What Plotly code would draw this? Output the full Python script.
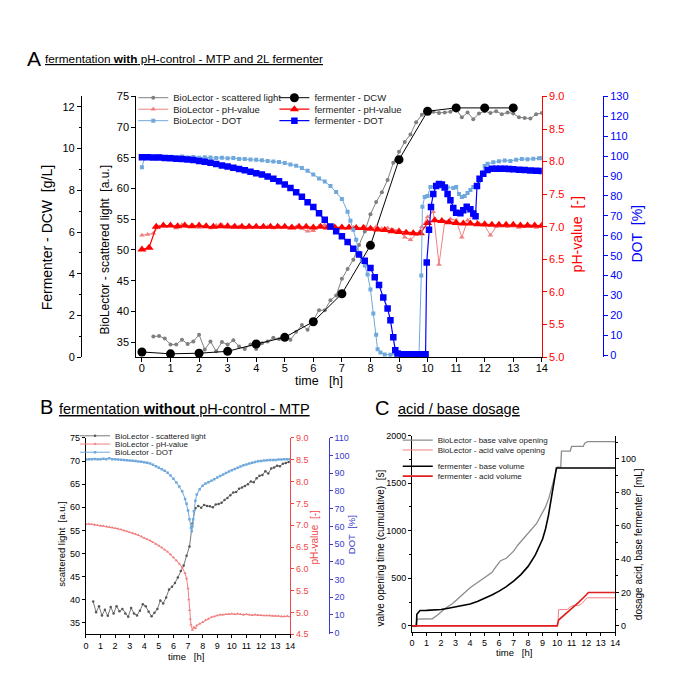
import plotly.graph_objects as go

# ---------------- Panel A data ----------------
a_ferm_t = [0, 1, 2, 3, 4, 5, 6, 7, 8, 9, 10, 11, 12, 13]
a_ferm_dcw = [0.25, 0.16, 0.19, 0.28, 0.63, 0.95, 1.70, 3.04, 5.36, 9.47, 11.79, 11.95, 11.95, 11.95]

a_bl_sl_t = [0.4, 0.6, 0.8, 1.0, 1.2, 1.4, 1.6, 1.8, 2.0, 2.2, 2.4, 2.6, 2.8, 3.0, 3.2, 3.4, 3.6, 3.8,
             4.0, 4.2, 4.4, 4.6, 4.8, 5.0, 5.2, 5.4, 5.6, 5.8, 6.0, 6.2, 6.4, 6.6, 6.8, 7.0, 7.2, 7.4,
             7.6, 7.8, 8.0, 8.2, 8.4, 8.6, 8.8, 9.0, 9.2, 9.4, 9.6, 9.8, 10.0, 10.2, 10.4, 10.6, 10.8,
             11.0, 11.2, 11.4, 11.6, 11.8, 12.0, 12.2, 12.4, 12.6, 12.8, 13.0, 13.2, 13.4, 13.6, 13.8, 14.0]
a_bl_sl = [35.9, 36.0, 35.6, 34.6, 34.6, 35.4, 34.7, 35.1, 36.2, 33.8, 35.1, 33.5, 35.0, 34.6, 35.3, 34.3,
           33.9, 34.6, 33.9, 34.8, 35.1, 35.7, 35.5, 35.9, 35.4, 36.7, 37.8, 37.0, 38.5, 40.2, 40.2, 41.8,
           42.6, 45.3, 46.9, 48.4, 50.8, 53.0, 55.8, 57.8, 59.4, 61.4, 64.2, 66.0, 67.6, 68.8, 70.8, 72.0,
           72.9, 72.5, 72.3, 72.4, 72.5, 72.9, 71.6, 72.4, 71.3, 72.2, 72.6, 72.3, 72.6, 72.1, 72.4, 72.2,
           71.6, 71.5, 71.4, 72.1, 72.3]

a_ferm_ph_t = [0.0, 0.25, 0.5, 0.75, 1.0, 1.25, 1.5, 1.75, 2.0, 2.25, 2.5, 2.75, 3.0, 3.25, 3.5, 3.75,
               4.0, 4.25, 4.5, 4.75, 5.0, 5.25, 5.5, 5.75, 6.0, 6.25, 6.5, 6.75, 7.0, 7.25, 7.5, 7.75,
               8.0, 8.25, 8.5, 8.75, 9.0, 9.25, 9.5, 9.75, 10.0, 10.25, 10.5, 10.75, 11.0, 11.25, 11.5,
               11.75, 12.0, 12.25, 12.5, 12.75, 13.0, 13.25, 13.5, 13.75, 14.0]
a_ferm_ph = [6.65, 6.68, 7.00, 7.02, 7.02, 7.01, 7.02, 7.01, 7.02, 7.01, 7.00, 7.01, 7.01, 7.00, 7.00, 7.00,
             7.00, 7.00, 7.00, 7.00, 7.00, 6.99, 7.00, 7.00, 6.99, 7.00, 6.99, 6.99, 6.99, 6.99, 6.98, 6.98,
             6.97, 6.96, 6.95, 6.93, 6.92, 6.91, 6.90, 6.90, 7.06, 7.10, 7.09, 7.07, 7.06, 7.05, 7.05,
             7.04, 7.04, 7.03, 7.03, 7.03, 7.03, 7.02, 7.02, 7.02, 7.02]

a_bl_ph_t = [0.0, 0.2, 0.4, 0.6, 0.8, 1.0, 1.2, 1.4, 1.6, 1.8, 2.0, 2.2, 2.4, 2.6, 2.8, 3.0, 3.2, 3.4, 3.6,
             3.8, 4.0, 4.2, 4.4, 4.6, 4.8, 5.0, 5.2, 5.4, 5.6, 5.8, 6.0, 6.2, 6.4, 6.6, 6.8, 7.0, 7.2, 7.4,
             7.6, 7.8, 8.0, 8.2, 8.4, 8.6, 8.8, 9.0, 9.2, 9.4, 9.6, 9.8, 10.0, 10.2, 10.4, 10.6, 10.8, 11.0,
             11.2, 11.4, 11.6, 11.8, 12.0, 12.2, 12.4, 12.6, 12.8, 13.0, 13.2, 13.4, 13.6, 13.8, 14.0]
a_bl_ph = [6.87, 6.88, 6.90, 7.00, 7.01, 7.02, 6.98, 7.03, 7.00, 7.02, 6.99, 7.01, 6.98, 7.02, 7.03, 6.99,
           7.01, 7.00, 6.98, 7.00, 7.01, 6.99, 7.00, 6.98, 7.01, 7.00, 6.99, 7.00, 6.97, 6.93, 6.94, 7.01,
           7.03, 7.00, 6.99, 7.00, 6.98, 6.99, 6.97, 7.00, 6.98, 7.00, 6.97, 6.98, 6.95, 6.96, 6.84, 6.80,
           6.88, 7.00, 7.15, 7.23, 6.42, 7.08, 7.12, 7.10, 6.84, 7.10, 7.17, 7.05, 7.02, 6.87, 7.00, 7.01,
           7.00, 7.01, 6.99, 7.00, 7.01, 6.99, 7.00]

a_ferm_dot_t = [0.0, 0.2, 0.4, 0.6, 0.8, 1.0, 1.2, 1.4, 1.6, 1.8, 2.0, 2.2, 2.4, 2.6, 2.8, 3.0, 3.2, 3.4,
                3.6, 3.8, 4.0, 4.2, 4.4, 4.6, 4.8, 5.0, 5.2, 5.4, 5.6, 5.8, 6.0, 6.2, 6.4, 6.6, 6.8, 7.0,
                7.2, 7.4, 7.6, 7.8, 8.0, 8.15, 8.3, 8.45, 8.6, 8.7, 8.8, 8.87, 8.95, 9.1, 9.25, 9.4, 9.55,
                9.7, 9.85, 9.93, 9.97, 10.05, 10.12, 10.2, 10.3, 10.4, 10.5, 10.6, 10.7, 10.8, 10.9, 11.0,
                11.15, 11.25, 11.37, 11.5, 11.6, 11.68, 11.73, 11.82, 11.95, 12.1, 12.25, 12.4, 12.55,
                12.7, 12.85, 13.0, 13.2, 13.4, 13.6, 13.8, 14.0]
a_ferm_dot = [99.5, 99.4, 99.3, 99.3, 99.0, 98.9, 98.7, 98.5, 98.3, 98.0, 97.6, 97.2, 96.7, 96.0, 95.3,
              94.8, 94.2, 93.5, 92.9, 92.2, 91.4, 90.8, 89.8, 88.7, 87.4, 85.8, 84.0, 81.8, 79.6, 76.8,
              74.5, 71.3, 68.0, 64.6, 62.3, 59.8, 56.8, 53.5, 50.6, 47.4, 43.8, 39.2, 35.3, 29.0, 23.5,
              17.5, 9.0, 2.5, 0.8, 0.5, 0.5, 0.5, 0.5, 0.5, 0.5, 0.5, 46.5, 63.0, 74.5, 81.0, 85.0, 86.0,
              85.8, 84.2, 81.0, 77.8, 74.0, 71.5, 71.3, 72.8, 74.6, 73.3, 71.2, 69.8, 85.0, 88.7, 91.2,
              93.0, 93.7, 93.7, 93.6, 93.6, 93.5, 93.4, 93.2, 93.0, 92.8, 92.6, 92.5]

a_bl_dot_t = [0.0, 0.1, 0.2, 0.4, 0.6, 0.8, 1.0, 1.2, 1.4, 1.6, 1.8, 2.0, 2.2, 2.4, 2.6, 2.8, 3.0, 3.2,
              3.4, 3.6, 3.8, 4.0, 4.2, 4.4, 4.6, 4.8, 5.0, 5.2, 5.4, 5.6, 5.8, 6.0, 6.2, 6.4, 6.6, 6.8,
              7.0, 7.2, 7.3, 7.4, 7.5, 7.6, 7.7, 7.8, 7.9, 8.0, 8.1, 8.2, 8.25, 8.35, 8.5, 8.7, 8.9, 9.1,
              9.3, 9.5, 9.7, 9.78, 9.82, 9.9, 10.0, 10.1, 10.3, 10.5, 10.7, 10.9, 11.0, 11.1, 11.2, 11.3,
              11.4, 11.5, 11.6, 11.7, 11.8, 11.9, 12.0, 12.1, 12.3, 12.5, 12.7, 12.9, 13.1, 13.3, 13.5,
              13.7, 13.9, 14.0]
a_bl_dot = [94.4, 99.7, 99.8, 99.6, 99.9, 99.5, 99.7, 99.4, 99.8, 99.3, 99.6, 99.2, 99.5, 99.3, 99.0,
            99.2, 98.9, 99.1, 98.6, 98.5, 98.3, 98.2, 97.9, 97.6, 97.3, 97.0, 96.5, 95.8, 95.2, 94.0,
            92.6, 90.8, 88.8, 87.2, 85.0, 82.0, 78.5, 72.1, 67.5, 63.0, 58.0, 51.5, 48.0, 45.0, 40.5,
            33.0, 21.0, 10.3, 3.0, 1.3, 0.4, 0.2, 0.3, 0.2, 0.3, 0.2, 0.3, 40.0, 74.6, 79.5, 80.0, 84.5,
            85.4, 84.8, 84.2, 84.0, 84.5, 81.0, 79.5, 80.0, 81.5, 83.0, 84.5, 85.5, 87.5, 91.5, 95.0,
            96.2, 96.9, 97.4, 97.8, 97.6, 98.2, 98.6, 98.4, 98.7, 98.9, 99.0]

# ---------------- Panel B data ----------------
b_sl_t = [0.5, 0.7, 0.9, 1.1, 1.3, 1.5, 1.7, 1.9, 2.1, 2.3, 2.5, 2.7, 2.9, 3.1, 3.3, 3.5, 3.7, 3.9, 4.1,
          4.3, 4.5, 4.7, 4.9, 5.1, 5.3, 5.5, 5.7, 5.9, 6.1, 6.3, 6.5, 6.7, 6.9, 7.1, 7.3, 7.5, 7.7, 7.9,
          8.1, 8.3, 8.5, 8.7, 8.9, 9.1, 9.3, 9.5, 9.7, 9.9, 10.1, 10.3, 10.5, 10.7, 10.9, 11.1, 11.3,
          11.5, 11.7, 11.9, 12.1, 12.3, 12.5, 12.7, 12.9, 13.1, 13.3, 13.5, 13.7, 13.9]
b_sl = [39.6, 37.3, 38.6, 36.6, 37.8, 36.5, 38.4, 37.0, 38.6, 37.5, 38.0, 37.0, 36.3, 38.2, 37.0, 36.6,
        37.6, 39.0, 38.6, 37.4, 36.4, 37.2, 38.0, 39.8, 39.2, 40.5, 42.2, 42.8, 43.6, 44.8, 46.2, 47.4,
        49.5, 51.5, 56.5, 59.8, 60.3, 59.9, 60.5, 60.3, 60.2, 60.0, 60.6, 60.7, 61.0, 61.6, 62.0, 62.6,
        63.2, 63.3, 64.0, 64.3, 64.6, 65.0, 65.6, 65.4, 66.3, 66.8, 67.0, 67.8, 67.3, 68.4, 68.6, 69.0,
        68.9, 69.4, 69.6, 69.8]

b_t = [0.0, 0.2, 0.4, 0.6, 0.8, 1.0, 1.2, 1.4, 1.6, 1.8, 2.0, 2.2, 2.4, 2.6, 2.8, 3.0, 3.2, 3.4, 3.6, 3.8,
       4.0, 4.2, 4.4, 4.6, 4.8, 5.0, 5.2, 5.4, 5.6, 5.8, 6.0, 6.2, 6.4, 6.6, 6.8, 6.9, 7.0, 7.05, 7.1,
       7.15, 7.2, 7.3, 7.4, 7.5, 7.6, 7.8, 8.0, 8.2, 8.4, 8.6, 8.8, 9.0, 9.2, 9.4, 9.6, 9.8, 10.0, 10.2,
       10.4, 10.6, 10.8, 11.0, 11.2, 11.4, 11.6, 11.8, 12.0, 12.2, 12.4, 12.6, 12.8, 13.0, 13.2, 13.4,
       13.6, 13.8, 14.0]
b_ph = [7.02, 7.03, 7.02, 7.01, 7.00, 6.99, 6.98, 6.97, 6.96, 6.95, 6.93, 6.92, 6.90, 6.88, 6.86, 6.84,
        6.82, 6.80, 6.77, 6.74, 6.71, 6.68, 6.65, 6.61, 6.57, 6.53, 6.49, 6.44, 6.39, 6.33, 6.26, 6.19,
        6.12, 6.03, 5.90, 5.78, 5.55, 5.30, 5.05, 4.85, 4.72, 4.60, 4.66, 4.64, 4.70, 4.74, 4.78, 4.83,
        4.86, 4.89, 4.91, 4.93, 4.95, 4.95, 4.96, 4.96, 4.97, 4.96, 4.97, 4.96, 4.95, 4.96, 4.95, 4.94,
        4.95, 4.94, 4.94, 4.93, 4.93, 4.93, 4.92, 4.92, 4.92, 4.91, 4.91, 4.92, 4.91]

b_dot_t = [0.0, 0.2, 0.4, 0.6, 0.8, 1.0, 1.2, 1.4, 1.6, 1.8, 2.0, 2.2, 2.4, 2.6, 2.8, 3.0, 3.2, 3.4, 3.6,
           3.8, 4.0, 4.2, 4.4, 4.6, 4.8, 5.0, 5.2, 5.4, 5.6, 5.8, 6.0, 6.2, 6.4, 6.6, 6.8, 6.9, 7.0, 7.1,
           7.2, 7.25, 7.3, 7.35, 7.4, 7.5, 7.6, 7.8, 8.0, 8.2, 8.4, 8.6, 8.8, 9.0, 9.2, 9.4, 9.6, 9.8,
           10.0, 10.2, 10.4, 10.6, 10.8, 11.0, 11.2, 11.4, 11.6, 11.8, 12.0, 12.2, 12.4, 12.6, 12.8,
           13.0, 13.2, 13.4, 13.6, 13.8, 14.0]
b_dot = [97.8, 98.0, 97.9, 98.1, 98.0, 98.0, 98.2, 98.0, 98.5, 98.0, 97.9, 97.8, 97.7, 97.6, 97.4, 97.3,
         97.1, 96.9, 96.7, 96.5, 96.3, 96.0, 95.5, 94.8, 94.0, 93.2, 92.3, 91.4, 90.3, 88.8, 86.9, 84.8,
         82.5, 79.8, 75.5, 72.8, 69.0, 64.0, 59.0, 57.2, 60.0, 64.0, 68.5, 74.5, 78.0, 81.0, 83.0, 84.2,
         85.0, 85.8, 86.7, 87.6, 88.5, 89.4, 90.2, 91.0, 91.8, 92.5, 93.2, 93.9, 94.5, 95.0, 95.5, 96.0,
         96.4, 96.8, 97.0, 97.2, 97.4, 97.5, 97.6, 97.6, 97.8, 97.8, 97.9, 97.9, 98.0]

# ---------------- Panel C data ----------------
c_base_valve_t = [0, 0.25, 0.35, 1.4, 1.8, 2.3, 2.8, 3.2, 3.6, 4.0, 4.5, 5.0, 5.5, 5.8, 6.1, 6.5, 7.0,
                  7.3, 7.7, 8.2, 8.6, 8.9, 9.2, 9.45, 9.65, 9.9, 10.0, 10.25, 10.3, 10.9, 11.0, 11.8,
                  11.9, 12.1, 14.0]
c_base_valve = [0, 0, 70, 75, 120, 185, 235, 285, 345, 400, 455, 505, 560, 625, 685, 710, 785, 850,
                920, 1010, 1080, 1165, 1250, 1350, 1455, 1600, 1667, 1667, 1835, 1835, 1885, 1885,
                1920, 1935, 1935]
c_acid_valve_t = [0, 10.05, 10.1, 10.7, 10.9, 11.1, 11.5, 11.75, 11.95, 12.1, 14.0]
c_acid_valve = [0, 0, 170, 172, 200, 213, 215, 240, 280, 295, 295]
c_base_vol_t = [0, 0.3, 0.33, 0.55, 1.0, 1.5, 2.0, 2.5, 3.0, 3.5, 4.0, 4.5, 5.0, 5.5, 6.0, 6.5, 7.0,
                7.5, 8.0, 8.5, 9.0, 9.2, 9.4, 9.6, 9.8, 9.95, 14.0]
c_base_vol = [0, 0, 7.0, 9.2, 9.3, 9.5, 9.8, 10.6, 11.3, 12.1, 13.1, 14.6, 16.4, 18.5, 20.8, 23.5, 26.8,
              30.7, 35.6, 42.5, 52.0, 58.0, 66.0, 76.0, 87.0, 94.5, 94.5]
c_acid_vol_t = [0, 10.0, 10.1, 10.5, 11.0, 11.5, 12.0, 12.15, 14.0]
c_acid_vol = [0, 0, 3.5, 6.5, 10.5, 14.2, 18.5, 20.0, 20.0]

# ---------------- helpers (layout only) ----------------
W, H = 685, 700
FONT = "Liberation Sans, Arial, sans-serif"
GRAY = "#7f7f7f"
PINK = "#f08080"
LBLUE = "#6fa8dc"
RED = "#ff0000"
BLUE = "#0000ff"
BRED = "#f04848"
BBLUE = "#3c3ccc"


def px(x):
    return x / W


def py(y):
    return 1 - y / H


fig = go.Figure()

# Panel A traces
fig.add_trace(go.Scatter(x=a_bl_sl_t, y=a_bl_sl, mode="lines+markers", name="BioLector - scattered light",
                         line=dict(color=GRAY, width=1), marker=dict(symbol="circle", size=4, color=GRAY),
                         xaxis="x", yaxis="y", legend="legend"))
fig.add_trace(go.Scatter(x=a_ferm_t, y=a_ferm_dcw, mode="lines+markers", name="fermenter - DCW",
                         line=dict(color="black", width=1), marker=dict(symbol="circle", size=9, color="black"),
                         xaxis="x", yaxis="y2", legend="legend4"))
fig.add_trace(go.Scatter(x=a_bl_ph_t, y=a_bl_ph, mode="lines+markers", name="BioLector - pH-value",
                         line=dict(color=PINK, width=1), marker=dict(symbol="triangle-up", size=5, color=PINK),
                         xaxis="x", yaxis="y3", legend="legend2"))
fig.add_trace(go.Scatter(x=a_ferm_ph_t, y=a_ferm_ph, mode="lines+markers", name="fermenter - pH-value",
                         line=dict(color=RED, width=1.2), marker=dict(symbol="triangle-up", size=8, color=RED),
                         xaxis="x", yaxis="y3", legend="legend5"))
fig.add_trace(go.Scatter(x=a_bl_dot_t, y=a_bl_dot, mode="lines+markers", name="BioLector - DOT",
                         line=dict(color=LBLUE, width=1), marker=dict(symbol="square", size=4, color=LBLUE),
                         xaxis="x", yaxis="y4", legend="legend3"))
fig.add_trace(go.Scatter(x=a_ferm_dot_t, y=a_ferm_dot, mode="lines+markers", name="fermenter - DOT",
                         line=dict(color=BLUE, width=1.2), marker=dict(symbol="square", size=6.5, color=BLUE),
                         xaxis="x", yaxis="y4", legend="legend6"))

# Panel B traces
fig.add_trace(go.Scatter(x=b_sl_t, y=b_sl, mode="lines+markers", name="BioLector - scattered light",
                         line=dict(color="#555555", width=0.8), marker=dict(symbol="circle", size=2.5, color="#555555"),
                         xaxis="x2", yaxis="y5", legend="legend7"))
fig.add_trace(go.Scatter(x=b_t, y=b_ph, mode="lines+markers", name="BioLector - pH-value",
                         line=dict(color=PINK, width=1), marker=dict(symbol="triangle-up", size=3, color=PINK),
                         xaxis="x2", yaxis="y6", legend="legend8"))
fig.add_trace(go.Scatter(x=b_dot_t, y=b_dot, mode="lines+markers", name="BioLector - DOT",
                         line=dict(color=LBLUE, width=1), marker=dict(symbol="square", size=2.5, color=LBLUE),
                         xaxis="x2", yaxis="y7", legend="legend9"))

# Panel C traces
fig.add_trace(go.Scatter(x=c_base_valve_t, y=c_base_valve, mode="lines", name="BioLector - base valve opening",
                         line=dict(color="#8c8c8c", width=1.3), xaxis="x3", yaxis="y8", legend="legend10"))
fig.add_trace(go.Scatter(x=c_acid_valve_t, y=c_acid_valve, mode="lines", name="BioLector - acid valve opening",
                         line=dict(color=PINK, width=1), xaxis="x3", yaxis="y8", legend="legend11"))
fig.add_trace(go.Scatter(x=c_base_vol_t, y=c_base_vol, mode="lines", name="fermenter - base volume",
                         line=dict(color="black", width=1.6), xaxis="x3", yaxis="y9", legend="legend12"))
fig.add_trace(go.Scatter(x=c_acid_vol_t, y=c_acid_vol, mode="lines", name="fermenter - acid volume",
                         line=dict(color="#e02020", width=1.6), xaxis="x3", yaxis="y9", legend="legend13"))


def ax(color="black", size=11, **kw):
    d = dict(showgrid=False, zeroline=False, showline=True, linewidth=1, linecolor=color,
             ticks="outside", ticklen=4, tickwidth=1, tickcolor=color,
             tickfont=dict(size=size, color=color, family=FONT))
    d.update(kw)
    return d


def leg(xtext, yrow, size):
    return dict(x=px(xtext - 40), y=py(yrow), xanchor="left", yanchor="middle",
                bgcolor="rgba(0,0,0,0)", borderwidth=0, itemwidth=30,
                font=dict(size=size, family=FONT, color="#222222"))


A_TOP, A_BOT = 92, 357.3
B_TOP, B_BOT = 439.5, 639.3
C_TOP, C_BOT = 437, 636.5

layout = dict(
    width=W, height=H, margin=dict(l=0, r=0, t=0, b=0),
    paper_bgcolor="white", plot_bgcolor="rgba(0,0,0,0)",
    font=dict(family=FONT, color="black"),
    # panel A
    xaxis=ax(domain=[px(135), px(546)], range=[-0.2, 14], anchor="y", dtick=1, tick0=0,
             ticklabelstandoff=-3),
    yaxis=ax(domain=[py(A_BOT), py(A_TOP)], range=[32.55, 75], anchor="x", dtick=5, tick0=35),
    yaxis2=ax(overlaying="y", anchor="free", position=px(79), side="left", range=[0, 12.5], dtick=2,
              tick0=0, minor=dict(dtick=1, ticks="outside", ticklen=2, tickcolor="black")),
    yaxis3=ax(color=RED, overlaying="y", anchor="x", side="right", range=[5, 9], dtick=0.5, tick0=5,
              tickformat=".1f"),
    yaxis4=ax(color=BLUE, overlaying="y", anchor="free", position=px(608), side="right", range=[-1, 130],
              dtick=10, tick0=0),
    # panel B
    xaxis2=ax(size=9, domain=[px(84), px(291)], range=[0, 14], anchor="y5", dtick=1, tick0=0, ticklen=3),
    yaxis5=ax(size=9, domain=[py(B_BOT), py(B_TOP)], range=[32.5, 75], anchor="x2", dtick=5, tick0=35, ticklen=3),
    yaxis6=ax(color=BRED, size=9, overlaying="y5", anchor="x2", side="right", range=[4.5, 9.0], dtick=0.5,
              tick0=4.5, tickformat=".1f", ticklen=3),
    yaxis7=ax(color=BBLUE, size=9, overlaying="y5", anchor="free", position=px(330), side="right",
              range=[-1.1, 110], dtick=10, tick0=0, ticklen=3),
    # panel C
    xaxis3=ax(size=9, domain=[px(414.5), px(620.3)], range=[0, 14], anchor="y8", dtick=1, tick0=0, ticklen=3),
    yaxis8=ax(size=9, domain=[py(C_BOT), py(C_TOP)], range=[-60, 2000], anchor="x3", dtick=500, tick0=0,
              ticklen=3, minor=dict(dtick=250, ticks="outside", ticklen=2, tickcolor="black")),
    yaxis9=ax(size=9, overlaying="y8", anchor="x3", side="right", range=[-3.4, 113.9], dtick=20, tick0=0,
              ticklen=3, minor=dict(dtick=10, ticks="outside", ticklen=2, tickcolor="black")),
    # legends
    legend=leg(172, 93.3, 9.5), legend2=leg(172, 105, 9.5), legend3=leg(172, 116.7, 9.5),
    legend4=leg(315, 93.3, 9.5), legend5=leg(315, 105, 9.5), legend6=leg(315, 116.7, 9.5),
    legend7=leg(113, 437.3, 8), legend8=leg(113, 445.7, 8), legend9=leg(113, 454, 8),
    legend10=leg(440, 441.7, 8), legend11=leg(440, 451.7, 8),
    legend12=leg(440, 468.3, 8), legend13=leg(440, 478.3, 8),
    showlegend=True,
)
fig.update_layout(**layout)

NB = "\u00a0"


def ann(x, y, text, size, color="black", angle=0, xanchor="center", family=FONT):
    return dict(x=px(x), y=py(y), xref="paper", yref="paper", text=text, showarrow=False,
                textangle=angle, xanchor=xanchor, yanchor="middle",
                font=dict(size=size, color=color, family=family))


annotations = [
    # titles
    ann(22, 53, "A", 21, xanchor="left"),
    ann(41, 54, "<u>fermentation <b>with</b> pH-control - MTP and 2L fermenter</u>", 11.8, xanchor="left"),
    ann(35, 408, "B", 20, xanchor="left"),
    ann(55, 410, "<u>fermentation <b>without</b> pH-control - MTP</u>", 14.5, xanchor="left"),
    ann(375, 409, "C", 20, xanchor="left"),
    ann(398, 410, "<u>acid / base dosage</u>", 14.5, xanchor="left"),
    # panel A axis titles
    ann(45, 236, "Fermenter - DCW" + NB * 2 + "[g/L]", 14, angle=-90),
    ann(103, 248, "BioLector - scattered light" + NB * 2 + "[a.u.]", 12, angle=-90),
    ann(582, 232, "pH-value" + NB * 2 + "[-]", 14, color=RED, angle=-90),
    ann(642, 232, "DOT" + NB * 2 + "[%]", 14, color=BLUE, angle=-90),
    ann(320, 382, "time" + NB * 3 + "[h]", 12.5),
    # panel B axis titles
    ann(59, 547, "scattered light" + NB * 2 + "[a.u.]", 9.5, angle=-90),
    ann(316, 540, "pH-value" + NB * 2 + "[-]", 10, color=BRED, angle=-90),
    ann(353, 538, "DOT" + NB * 2 + "[%]", 9.5, color=BBLUE, angle=-90),
    ann(185, 662, "time" + NB * 3 + "[h]", 9.5),
    # panel C axis titles
    ann(383, 551, "valve opening time (cumulative)" + NB * 2 + "[s]", 10, angle=-90),
    ann(644, 548, "dosage acid, base fermenter" + NB * 2 + "[mL]", 10, angle=-90),
    ann(518, 658, "time" + NB * 3 + "[h]", 9.5),
]
fig.update_layout(annotations=annotations)

fig.write_html("out.html", config={"displayModeBar": False},
               post_script="document.body.style.margin='0px';")
